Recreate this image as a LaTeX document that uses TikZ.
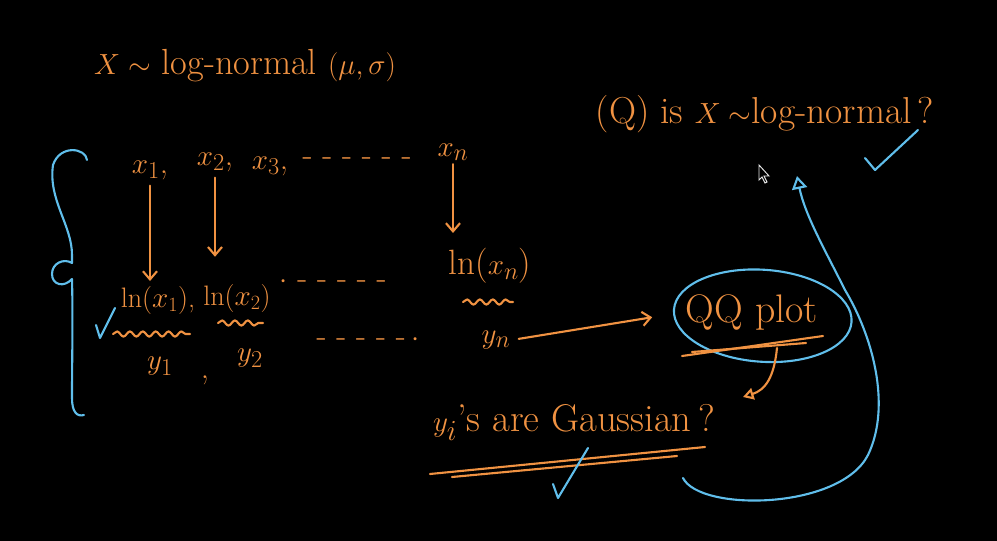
\documentclass[tikz,border=0pt]{standalone}
\usetikzlibrary{arrows.meta,decorations.pathmorphing,shapes.geometric}
\definecolor{chalk}{RGB}{240,146,66}
\definecolor{ink}{RGB}{96,190,235}
\tikzset{
  lbl/.style={text=chalk, inner sep=1pt, font=\fontsize{28}{32}\selectfont},
  small/.style={lbl, font=\fontsize{24}{28}\selectfont},
  big/.style={lbl, font=\fontsize{32}{36}\selectfont},
  pen/.style={draw=chalk, line width=1.8pt, line cap=round, line join=round},
  bpen/.style={draw=ink, line width=1.8pt, line cap=round, line join=round},
  arr/.style={pen, -{Straight Barb[length=7pt,width=12pt]}},
  wave/.style={pen, decorate, decoration={snake, amplitude=2.2pt, segment length=11pt}},
}
\begin{document}
\begin{tikzpicture}[x=0.3mm,y=-0.3mm]
\fill[black] (0,0) rectangle (997,541);
\useasboundingbox (0,0) rectangle (997,541);

% headings
\node[lbl, font=\fontsize{31}{35}\selectfont] (title) at (245,66) {$X\sim$ log-normal $(\mu,\sigma)$};
\node[big] (q) at (765,114) {(Q) is $X\sim$log-normal\,?};

% x row
\node[lbl] (x1) at (150,170) {$x_1$,};
\node[lbl] (x2) at (215,162) {$x_2$,};
\node[lbl] (x3) at (270,166) {$x_3$,};
\node[lbl] (xd) at (357,162) {- - - - - -};
\node[lbl] (xn) at (453,152) {$x_n$};

% ln row
\node[small] (l1) at (158,300) {ln($x_1$),};
\node[small] (l2) at (237,298) {ln($x_2$)};
\node[lbl] (ld) at (333,282) {$\cdot$ - - - - -};
\node[lbl, font=\fontsize{30}{34}\selectfont] (ln) at (490,266) {ln($x_n$)};

% y row
\node[lbl] (y1) at (160,366) {$y_1$};
\node[lbl] (yc) at (205,380) {,};
\node[lbl] (y2) at (250,358) {$y_2$};
\node[lbl] (yd) at (368,340) {- - - - -\,$\cdot$};
\node[lbl] (yn) at (496,340) {$y_n$};

% QQ plot and Gaussian question
\node[lbl, font=\fontsize{34}{38}\selectfont] (qq) at (752,312) {QQ plot};
\node[lbl, font=\fontsize{33}{37}\selectfont] (gauss) at (574,422) {$y_i$'s are Gaussian\,?};

% vertical arrows
\draw[arr, shorten <=4pt, shorten >=3pt] (x1.south) -- (x1.south |- l1.north);
\draw[arr, shorten <=4pt, shorten >=22pt] (x2.south) -- (x2.south |- l2.north);
\draw[arr, shorten <=2pt, shorten >=12pt] (xn.south) -- (xn.south |- ln.north);

% squiggles
\draw[wave] (113,334) -- (190,334);
\draw[wave] (218,323) -- (263,323);
\draw[wave] (463,302) -- (513,302);

% yn -> QQ
\draw[arr, shorten <=6pt, shorten >=28pt] (yn.east) -- (qq.west);

% QQ ellipse and underlines
\draw[bpen, rotate around={-4:(763,315)}] (qq.center) ++(11,3) ellipse [x radius=89, y radius=46];
\draw[pen] (682,356) -- (823,336);
\draw[pen] (692,352) -- (806,343);
\coordinate (u1) at (777,348);
\coordinate (g1) at (743,397);
\draw[pen, -{Triangle[open,length=9pt,width=10pt]}] (u1) .. controls (774,378) and (765,390) .. (g1);

% Gaussian underline and check
\draw[pen] (430,474) -- (705,447);
\draw[pen] (452,477) -- (677,456);
\draw[bpen] (553,484) -- (558,498) -- (588,448);

% checks near Q and ln(x1)
\draw[bpen] (865,158) -- (875,170) -- (918,130);
\draw[bpen] (96,325) -- (100,338) -- (115,308);

% big blue return arrow
\coordinate (c0) at (683,478);
\coordinate (qt) at (797,176);
\draw[bpen, -{Triangle[open,length=11pt,width=13pt]}] (c0) .. controls (700,512) and (840,510) .. (868,455)
  .. controls (892,405) and (872,335) .. (845,290)
  .. controls (825,250) and (805,215) .. (qt);

% left brace
\draw[bpen] (87,160) .. controls (86,148) and (60,144) .. (53,165)
  .. controls (48,200) and (72,225) .. (72,255)
  .. controls (72,259) and (72,261) .. (72,263)
  .. controls (64,258) and (52,263) .. (52,274)
  .. controls (52,285) and (64,288) .. (72,279)
  .. controls (73,320) and (72,360) .. (72,398)
  .. controls (72,412) and (77,417) .. (84,415);

% mouse cursor
\draw[white!80!gray, line width=0.8pt, fill=black] (759,165) -- (759,180) -- (762,177) -- (765,183) -- (767,182) -- (764,176) -- (769,176) -- cycle;
\end{tikzpicture}
\end{document}
